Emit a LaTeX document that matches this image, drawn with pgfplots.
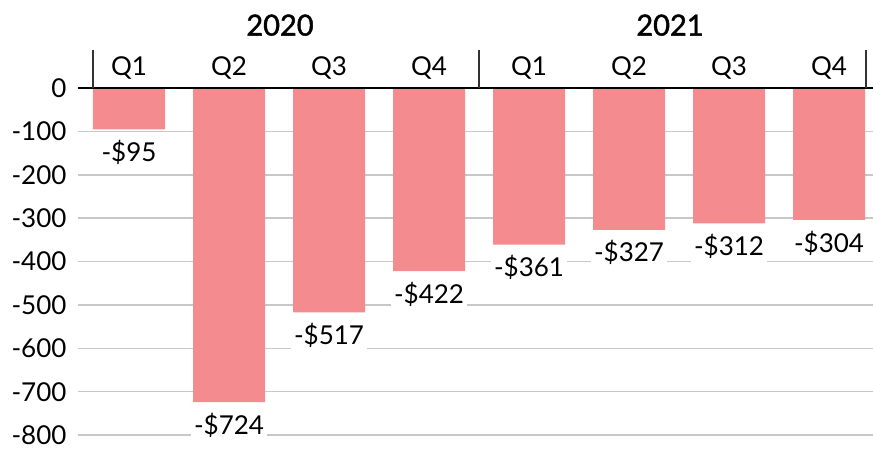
\documentclass[border=0pt]{standalone}
\usepackage{fontspec}
\setmainfont{Lato}
\newfontfamily\yearfont[FakeBold=1.5]{Lato}
\usepackage{pgfplots}
\pgfplotsset{compat=1.18}
\definecolor{barc}{HTML}{F48C8F}
\definecolor{gridc}{HTML}{C8C8C8}
\newcommand{\lblfont}{\fontsize{13}{15}\selectfont}
\begin{document}
\begin{tikzpicture}
\begin{axis}[
  scale only axis, width=397.5pt, height=173.5pt,
  xmin=-0.51, xmax=7.44, ymin=-800, ymax=0,
  axis line style={draw=none},
  ytick={-800,-700,...,0}, xtick=\empty,
  major tick length=0pt,
  ymajorgrids, grid style={gridc, line width=0.75pt},
  yticklabel style={font=\lblfont, xshift=-2.25pt},
  /pgf/number format/assume math mode=true,
  clip=false,
  ybar, bar width=36pt,
  point meta=explicit symbolic,
  nodes near coords,
  every node near coord/.append style={font=\lblfont, anchor=center, yshift=-11.5pt, fill=white, inner sep=1.5pt},
]
\addplot[fill=barc, draw=none] coordinates {
  (0,-95) [-\$95]
  (1,-724) [-\$724]
  (2,-517) [-\$517]
  (3,-422) [-\$422]
  (4,-361) [-\$361]
  (5,-327) [-\$327]
  (6,-312) [-\$312]
  (7,-304) [-\$304]
};
\draw[black, line width=1pt] (axis cs:-0.51,0) -- (axis cs:7.44,0);
\draw[black!80, line width=0.75pt] (axis cs:-0.36,0) -- (axis cs:-0.36,88);
\draw[black!80, line width=0.75pt] (axis cs:3.5,0) -- (axis cs:3.5,88);
\draw[black!80, line width=0.75pt] (axis cs:7.37,0) -- (axis cs:7.37,88);
\node[font=\lblfont] at (axis cs:0,46) {Q1};
\node[font=\lblfont] at (axis cs:1,46) {Q2};
\node[font=\lblfont] at (axis cs:2,46) {Q3};
\node[font=\lblfont] at (axis cs:3,46) {Q4};
\node[font=\lblfont] at (axis cs:4,46) {Q1};
\node[font=\lblfont] at (axis cs:5,46) {Q2};
\node[font=\lblfont] at (axis cs:6,46) {Q3};
\node[font=\lblfont] at (axis cs:7,46) {Q4};
\node[font=\yearfont\fontsize{14.5}{16}\selectfont] at (axis cs:1.51,145) {2020};
\node[font=\yearfont\fontsize{14.5}{16}\selectfont] at (axis cs:5.41,145) {2021};
\coordinate (bbsw) at (axis cs:-1.29,-837);
\coordinate (bbne) at (axis cs:7.44,203);
\end{axis}
\pgfresetboundingbox
\path[use as bounding box] (bbsw) rectangle (bbne);
\end{tikzpicture}
\end{document}
